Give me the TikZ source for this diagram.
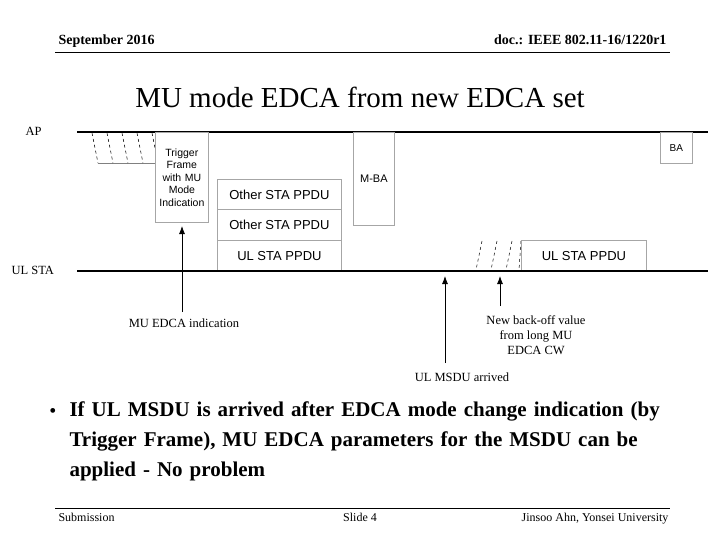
\documentclass[tikz,border=0pt]{standalone}
\usepackage{fontspec}
\usetikzlibrary{arrows.meta}
\setmainfont{Liberation Serif}
\setsansfont{Liberation Sans}
\begin{document}
\begin{tikzpicture}[x=1pt,y=-1pt,
  box/.style={draw=gray!70,line width=0.8pt,fill=white,inner sep=0pt,font=\sffamily\fontsize{13}{15}\selectfont,align=center},
  tl/.style={line width=2pt},
  hatch/.style={dashed,line width=0.5pt},
  arr/.style={line width=0.8pt,-{Latex[length=8pt,width=6pt]}},
  lab/.style={font=\fontsize{12.5}{13}\selectfont,align=center}]
\useasboundingbox (0,0) rectangle (720,540);
\node[anchor=base west,font=\bfseries\fontsize{14}{16}\selectfont] (date) at (55,45) {September 2016};
\node[anchor=base east,font=\bfseries\fontsize{14}{16}\selectfont] (doc) at (670,45) {doc.: IEEE 802.11-16/1220r1};
\draw[line width=0.8pt] (55,52) -- (670,52);
\node[font=\fontsize{29}{32}\selectfont] (title) at (360,97) {MU mode EDCA from new EDCA set};
% time lines
\node[lab,anchor=west] (ap) at (22,131) {AP};
\node[lab,anchor=west] (ul) at (8,270) {UL STA};
\draw[tl] (77,132) -- (708,132);
% AP hatch
\draw[gray,line width=0.6pt] (98,163) -- (155,163);
\foreach \x in {92,107,122,137,152}{\draw[hatch] (\x,133) -- (\x+6,163);}
\node[box,minimum width=53pt,minimum height=90pt,anchor=north west,text width=50pt,font=\sffamily\fontsize{10.5}{12.5}\selectfont] (tf) at (155,132) {Trigger\\Frame\\with MU\\Mode\\Indication};
\node[box,minimum width=124pt,minimum height=31pt,anchor=north west] (o1) at (217,179) {Other STA PPDU};
\node[box,minimum width=124pt,minimum height=31pt,anchor=north west] (o2) at (217,209) {Other STA PPDU};
\node[box,minimum width=124pt,minimum height=31pt,anchor=north west] (u1) at (217,240) {UL STA PPDU};
\node[box,minimum width=41pt,minimum height=93pt,anchor=north west,font=\sffamily\fontsize{11}{13}\selectfont] (mba) at (353,132) {M-BA};
\node[box,minimum width=32pt,minimum height=31pt,anchor=north west,font=\sffamily\fontsize{10}{12}\selectfont] (ba) at (660,132) {BA};
\foreach \x in {478,493,508}{\draw[hatch] (\x+4,241) -- (\x-2,270);}
\draw[hatch] (521,241) -- (519,270);
\node[box,minimum width=125pt,minimum height=31pt,anchor=north west] (u2) at (521,240) {UL STA PPDU};
\draw[tl] (77,271) -- (708,271);
% arrows
\coordinate (a1) at (182,226);
\coordinate (a2) at (445,276);
\coordinate (a3) at (500,276);
\node[lab] (mu) at (184,323) {MU EDCA indication};
\node[lab] (msdu) at (462,377) {UL MSDU arrived};
\node[lab,font=\fontsize{12.5}{15}\selectfont] (nb) at (536,335) {New back-off value\\from long MU\\EDCA CW};
\draw[arr] (182,312) -- (a1);
\draw[arr] (445,363) -- (a2);
\draw[arr] (500,306) -- (a3);
% bullet
\node[anchor=north west,text width=610pt,align=left,font=\bfseries\fontsize{21}{30}\selectfont] (bt) at (66,398) {If UL MSDU is arrived after EDCA mode change indication (by Trigger Frame), MU EDCA parameters for the MSDU can be applied - No problem};
\node[font=\fontsize{20}{24}\selectfont] (bul) at (53,413) {•};
% footer
\draw[line width=0.6pt] (55,508) -- (670,508);
\node[anchor=base west,font=\fontsize{12}{14}\selectfont] (sub) at (55,521) {Submission};
\node[anchor=base,font=\fontsize{12}{14}\selectfont] (sl) at (360,521) {Slide 4};
\node[anchor=base east,font=\fontsize{12}{14}\selectfont] (au) at (672,521) {Jinsoo Ahn, Yonsei University};
\end{tikzpicture}
\end{document}
